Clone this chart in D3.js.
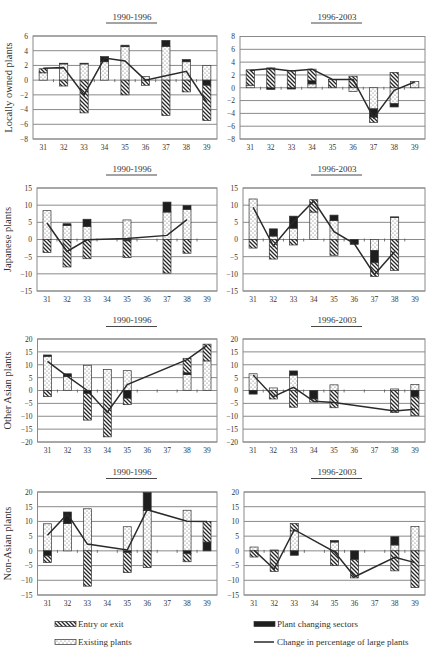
<!DOCTYPE html>
<html><head><meta charset="utf-8">
<script src="https://cdn.jsdelivr.net/npm/d3@7/dist/d3.min.js"></script>
<style>
body{margin:0;background:#fff}
svg{display:block}
text{font-family:"Liberation Serif","Times New Roman",serif;fill:#333}
</style>
</head><body>
<svg id="chart" width="427" height="654"></svg>
<script>
// ---------------- DATA ----------------
const categories = ["31","32","33","34","35","36","37","38","39"];
const periods = ["1990-1996","1996-2003"];
const groupNames = ["Locally owned plants","Japanese plants","Other Asian plants","Non-Asian plants"];
const seriesNames = ["Entry or exit","Plant changing sectors","Existing plants","Change in percentage of large plants"];

// Locally owned 1990-1996
const localExisting90 = [1.0, 2.2, 2.2, 2.5, 4.55, 0.5, 4.6, 2.5, 2.0];
const localChanging90 = [0, 0.1, 0.1, 0.7, 0.2, 0, 0.8, 0.3, -0.7];
const localEntry90    = [0.55, -0.8, -4.45, 0, -2.0, -0.7, -4.8, -1.6, -4.8];
const localLine90     = [1.6, 1.7, -2.0, 3.0, 2.6, 0.0, 0.6, 1.2, -3.0];
// Locally owned 1996-2003
const localExisting96 = [0.4, 0, 0, 0.6, 0, -0.6, -3.3, -2.5, 1.0];
const localChanging96 = [0, -0.25, -0.2, 0.5, 0, 0, -1.3, -0.5, 0];
const localEntry96    = [2.4, 3.1, 2.7, 1.8, 1.3, 1.8, -0.8, 2.4, 0];
const localLine96     = [2.7, 3.0, 2.6, 2.9, 1.3, 1.3, -4.7, -0.4, 0.9];
// Japanese 1990-1996
const japanExisting90 = [8.4, 4.1, 3.8, 0, 5.7, 0, 8.0, 8.8, 0];
const japanChanging90 = [0, 0.5, 2.1, 0, -0.4, 0, 2.9, 1.1, 0];
const japanEntry90    = [-3.8, -8.0, -5.6, 0, -4.9, 0, -9.8, -4.0, 0];
const japanLine90     = [4.8, -3.5, -0.1, null, 0.3, null, 1.2, 5.8, null];
// Japanese 1996-2003
const japanExisting96 = [11.8, 1.0, 3.3, 8.0, 5.5, 0, -3.2, 6.4, 0];
const japanChanging96 = [0, 2.1, 3.5, 0, 1.6, -1.4, -3.6, 0.2, 0];
const japanEntry96    = [-2.5, -5.7, -1.6, 3.6, -4.6, 0, -4.0, -9.0, 0];
const japanLine96     = [9.4, -1.9, 5.2, 11.2, 2.3, -1.2, -10.2, -3.5, null];
// Other Asian 1990-1996
const asiaExisting90 = [13.3, 5.5, 9.8, 8.2, 7.7, 0, 0, 6.2, 11.5];
const asiaChanging90 = [0.5, 1.0, -1.2, 0, -3.0, 0, 0, 0.7, 0];
const asiaEntry90    = [-2.4, 0, -10.3, -18.0, -2.5, 0, 0, 5.6, 6.5];
const asiaLine90     = [11.3, 5.5, 0, -8.5, 2.3, null, null, 12.0, 17.5];
// Other Asian 1996-2003
const asiaExisting96 = [6.5, 1.0, 6.0, 0, 2.2, 0, 0, 0.6, 2.3];
const asiaChanging96 = [-1.4, 0, 1.6, -3.3, 0, 0, 0, 0, -2.5];
const asiaEntry96    = [0, -3.3, -6.5, -1.2, -6.7, 0, 0, -8.6, -7.3];
const asiaLine96     = [6.0, -2.4, 1.2, -4.2, -4.7, null, null, -8.0, -7.3];
// Non-Asian 1990-1996
const nonAsiaExisting90 = [9.2, 9.3, 14.3, 0, 8.2, 13.7, 0, 13.8, 0];
const nonAsiaChanging90 = [-1.7, 3.9, 0, 0, -0.6, 6.1, 0, -1.0, 3.0];
const nonAsiaEntry90    = [-2.3, 0, -12.0, 0, -6.8, -5.7, 0, -2.7, 7.0];
const nonAsiaLine90     = [5.3, 12.5, 2.3, null, 0.3, 14.0, null, 10.1, 10.0];
// Non-Asian 1996-2003
const nonAsiaExisting96 = [1.3, 0.3, 6.8, 0, 3.0, 0, 0, 2.0, 8.3];
const nonAsiaChanging96 = [0, 0, -1.5, 0, 0.5, -3.0, 0, 2.8, 0];
const nonAsiaEntry96    = [-2.1, -7.0, 2.5, 0, -5.0, -6.2, 0, -6.8, -12.5];
const nonAsiaLine96     = [0.2, -6.2, 7.2, null, -0.3, -8.8, null, -2.2, -4.0];

// y-axis tick values per panel
const localTicks90 = [-8,-6,-4,-2,0,2,4,6];
const localTicks96 = [-8,-6,-4,-2,0,2,4,6,8];
const japanTicks = [-15,-10,-5,0,5,10,15];
const asiaTicks = [-20,-15,-10,-5,0,5,10,15,20];
const nonAsiaTicks = [-15,-10,-5,0,5,10,15,20];

// ---------------- LAYOUT ----------------
const panels = [
  {row:0,col:0,ex:localExisting90,ch:localChanging90,en:localEntry90,ln:localLine90,ticks:localTicks90,x0:33,x1:217,y0:36,y1:139},
  {row:0,col:1,ex:localExisting96,ch:localChanging96,en:localEntry96,ln:localLine96,ticks:localTicks96,x0:240,x1:425,y0:36.5,y1:139},
  {row:1,col:0,ex:japanExisting90,ch:japanChanging90,en:japanEntry90,ln:japanLine90,ticks:japanTicks,x0:37,x1:217,y0:188,y1:291},
  {row:1,col:1,ex:japanExisting96,ch:japanChanging96,en:japanEntry96,ln:japanLine96,ticks:japanTicks,x0:243,x1:425,y0:188,y1:291},
  {row:2,col:0,ex:asiaExisting90,ch:asiaChanging90,en:asiaEntry90,ln:asiaLine90,ticks:asiaTicks,x0:37.5,x1:217,y0:339,y1:442},
  {row:2,col:1,ex:asiaExisting96,ch:asiaChanging96,en:asiaEntry96,ln:asiaLine96,ticks:asiaTicks,x0:243,x1:425,y0:339,y1:442},
  {row:3,col:0,ex:nonAsiaExisting90,ch:nonAsiaChanging90,en:nonAsiaEntry90,ln:nonAsiaLine90,ticks:nonAsiaTicks,x0:37.5,x1:217,y0:492,y1:595},
  {row:3,col:1,ex:nonAsiaExisting96,ch:nonAsiaChanging96,en:nonAsiaEntry96,ln:nonAsiaLine96,ticks:nonAsiaTicks,x0:244,x1:425,y0:492,y1:595}
];
const titleY = [19.5, 171.5, 323, 475];
const titleX = [132, 337];

const svg = d3.select("#chart");
const defs = svg.append("defs");
const hatch = defs.append("pattern").attr("id","hatch").attr("patternUnits","userSpaceOnUse")
  .attr("width",4).attr("height",4);
hatch.append("rect").attr("width",4).attr("height",4).attr("fill","#fff");
hatch.append("path").attr("d","M-1,-1L5,5M-1,3L1,5M3,-1L5,1").attr("stroke","#262626").attr("stroke-width",1.3);
const dots = defs.append("pattern").attr("id","dots").attr("patternUnits","userSpaceOnUse")
  .attr("width",4).attr("height",4);
dots.append("rect").attr("width",4).attr("height",4).attr("fill","#fff");
dots.append("circle").attr("cx",1).attr("cy",1).attr("r",0.6).attr("fill","#666");
dots.append("circle").attr("cx",3).attr("cy",3).attr("r",0.6).attr("fill","#666");

const fills = {existing:"url(#dots)", changing:"#1e1e1e", entry:"url(#hatch)"};
const keys = ["existing","changing","entry"];

// period titles
titleY.forEach(ty => {
  periods.forEach((p,i) => {
    svg.append("text").attr("x",titleX[i]).attr("y",ty).attr("text-anchor","middle")
      .attr("font-size",9).text(p);
    svg.append("line").attr("x1",titleX[i]-26).attr("x2",titleX[i]+25)
      .attr("y1",ty+3.5).attr("y2",ty+3.5).attr("stroke","#333").attr("stroke-width",0.9);
  });
});

panels.forEach(p => {
  const g = svg.append("g");
  const x = d3.scaleBand().domain(categories).range([p.x0,p.x1]).paddingInner(0.6).paddingOuter(0.3);
  const y = d3.scaleLinear().domain(d3.extent(p.ticks)).range([p.y1,p.y0]);
  // grid
  g.selectAll(".grid").data(p.ticks).join("line")
    .attr("x1",p.x0).attr("x2",p.x1).attr("y1",d=>y(d)).attr("y2",d=>y(d))
    .attr("stroke","#8a8a8a").attr("stroke-width",1);
  g.append("rect").attr("x",p.x0).attr("y",p.y0).attr("width",p.x1-p.x0).attr("height",p.y1-p.y0)
    .attr("fill","none").attr("stroke","#8a8a8a").attr("stroke-width",1);
  // y axis labels
  const ya = d3.axisLeft(y).tickValues(p.ticks).tickSize(0).tickPadding(5);
  const yg = g.append("g").attr("transform",`translate(${p.x0},0)`).call(ya);
  yg.select(".domain").remove();
  yg.selectAll("text").attr("font-size",7.5).attr("fill","#444").style("font-family","'Liberation Serif',serif");
  // x axis labels
  const xa = d3.axisBottom(x).tickSize(0).tickPadding(6);
  const xg = g.append("g").attr("transform",`translate(0,${p.y1})`).call(xa);
  xg.select(".domain").remove();
  xg.selectAll("text").attr("font-size",7.5).attr("fill","#444").style("font-family","'Liberation Serif',serif");
  // small ticks on zero line at category boundaries
  const step = x.step();
  const bounds = d3.range(1,categories.length).map(i => x(categories[i]) - step*x.paddingInner()/2);
  g.selectAll(".zt").data(bounds).join("line")
    .attr("x1",d=>d).attr("x2",d=>d).attr("y1",y(0)-1).attr("y2",y(0)+2)
    .attr("stroke","#555").attr("stroke-width",0.8);
  // stacked bars
  const rows = categories.map((c,i)=>({cat:c, existing:p.ex[i], changing:p.ch[i], entry:p.en[i]}));
  const stacked = d3.stack().keys(keys).offset(d3.stackOffsetDiverging)(rows);
  stacked.forEach(s => {
    g.selectAll(null).data(s.filter(d=>Math.abs(d[1]-d[0])>0)).join("rect")
      .attr("x",d=>x(d.data.cat)).attr("width",x.bandwidth())
      .attr("y",d=>y(Math.max(d[0],d[1]))).attr("height",d=>Math.abs(y(d[0])-y(d[1])))
      .attr("fill",fills[s.key]).attr("stroke","#333").attr("stroke-width",0.7);
  });
  // line
  const pts = categories.map((c,i)=>({cat:c,v:p.ln[i]})).filter(d=>d.v!==null);
  const line = d3.line().x(d=>x(d.cat)+x.bandwidth()/2).y(d=>y(d.v));
  g.append("path").attr("d",line(pts)).attr("fill","none").attr("stroke","#2a2a2a").attr("stroke-width",1.5);
  // row title
  if (p.col===0) {
    svg.append("text").attr("transform",`translate(${p.row===0?11.5:11},${(p.y0+p.y1)/2}) rotate(-90)`)
      .attr("text-anchor","middle").attr("font-size",10.5).text(groupNames[p.row]);
  }
});

// legend
const legend = [
  {x:55, y:624, type:"entry", label:seriesNames[0]},
  {x:254, y:624, type:"changing", label:seriesNames[1]},
  {x:55, y:642, type:"existing", label:seriesNames[2]},
  {x:254, y:642, type:"line", label:seriesNames[3]}
];
legend.forEach(l => {
  if (l.type==="line") {
    svg.append("line").attr("x1",l.x).attr("x2",l.x+20).attr("y1",l.y).attr("y2",l.y)
      .attr("stroke","#2a2a2a").attr("stroke-width",1.5);
  } else {
    svg.append("rect").attr("x",l.x).attr("y",l.y-2.5).attr("width",21).attr("height",5)
      .attr("fill",fills[l.type]).attr("stroke","#333").attr("stroke-width",0.7);
  }
  svg.append("text").attr("x",l.x+23).attr("y",l.y+3).attr("font-size",9).text(l.label);
});
</script>
</body></html>
